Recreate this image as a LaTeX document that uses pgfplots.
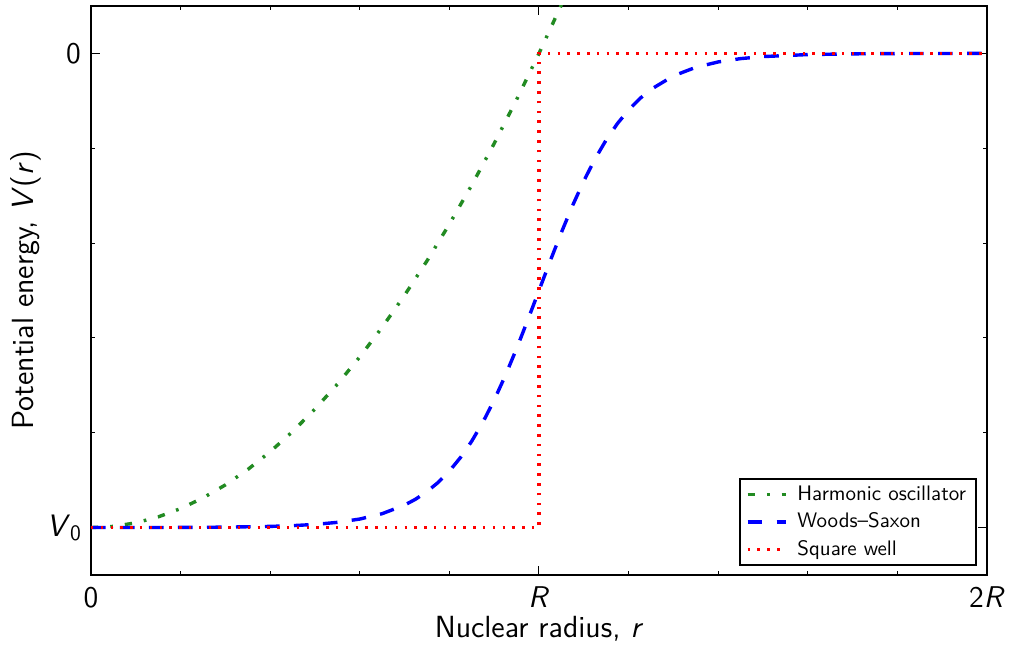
\documentclass[border=0pt]{standalone}
\usepackage{pgfplots}
\pgfplotsset{compat=1.18}

\definecolor{hogreen}{RGB}{34,139,34}

\begin{document}
\begin{tikzpicture}
\useasboundingbox (-45.5pt,-38pt) rectangle (459pt,287.5pt);
\begin{axis}[
  scale only axis,
  width=448pt, height=284.5pt,
  xmin=0, xmax=2, ymin=-1.1, ymax=0.1,
  xtick={0,1,2}, xticklabels={0,\textit{R},2\textit{R}},
  ytick={-1,0},
  yticklabels={{{\fontsize{15.5}{15}\selectfont\textit{V}}\raisebox{-2pt}{\fontsize{11}{11}\selectfont 0}},0},
  minor x tick num=4, minor y tick num=4,
  tick align=inside,
  major tick length=4.5pt, minor tick length=2.2pt,
  every tick/.style={black, line width=0.5pt},
  axis line style={line width=1.3pt},
  ticklabel style={font=\sffamily\fontsize{15}{16}\selectfont},
  xticklabel style={yshift=-2.5pt},
  yticklabel style={xshift=-1.5pt},
  xlabel={Nuclear radius, \textit{r}},
  ylabel={Potential energy, \textit{V}(\textit{r})},
  label style={font=\sffamily\fontsize{15.3}{17}\selectfont},
  xlabel style={at={(axis description cs:0.5,-0.09402)}, anchor=center},
  ylabel style={at={(axis description cs:-0.07254,0.5)}, anchor=center},
  legend cell align=left,
  legend style={
    at={(rel axis cs:1,0)}, anchor=south east, xshift=-5pt, yshift=4.5pt,
    draw=black, line width=1pt, fill=white,
    font=\sffamily\fontsize{10.5}{12}\selectfont,
    inner xsep=3pt, inner ysep=0.9pt, row sep=0pt, column sep=3pt,
    nodes={inner sep=2pt, text height=7.7pt, text depth=2.05pt},
  },
  legend image code/.code={\draw[#1] (0pt,0pt) -- (19pt,0pt);},
]

% harmonic oscillator, V = V0 (1 - r^2/R^2)
\addplot[hogreen, line width=1.7pt,
  dash pattern=on 3.65pt off 6pt on 1.35pt off 6pt] coordinates {
  (0,-1) (0.05,-0.9975) (0.1,-0.99) (0.15,-0.9775) (0.2,-0.96)
  (0.25,-0.9375) (0.3,-0.91) (0.35,-0.8775) (0.4,-0.84) (0.45,-0.7975)
  (0.5,-0.75) (0.55,-0.6975) (0.6,-0.64) (0.65,-0.5775) (0.7,-0.51)
  (0.75,-0.4375) (0.8,-0.36) (0.85,-0.2775) (0.9,-0.19) (0.95,-0.0975)
  (1.0,0) (1.05,0.1025) (1.1,0.21)
};
\addlegendentry{Harmonic oscillator}

% Woods--Saxon, diffuseness a = 0.1 R
\addplot[blue, line width=1.7pt,
  dash pattern=on 7.3pt off 7.2pt] coordinates {
  (0,-0.99995) (0.1,-0.99988) (0.2,-0.99966) (0.3,-0.99909) (0.4,-0.99753)
  (0.45,-0.99593) (0.5,-0.99331) (0.55,-0.98901) (0.6,-0.98201)
  (0.65,-0.97069) (0.7,-0.95257) (0.725,-0.93991) (0.75,-0.92414)
  (0.775,-0.90465) (0.8,-0.88080) (0.825,-0.85195) (0.85,-0.81757)
  (0.875,-0.77730) (0.9,-0.73106) (0.925,-0.67918) (0.95,-0.62246)
  (0.975,-0.56218) (1.0,-0.5) (1.025,-0.43782) (1.05,-0.37754)
  (1.075,-0.32082) (1.1,-0.26894) (1.125,-0.22270) (1.15,-0.18243)
  (1.175,-0.14805) (1.2,-0.11920) (1.225,-0.09535) (1.25,-0.07586)
  (1.3,-0.04743) (1.35,-0.02931) (1.4,-0.01799) (1.45,-0.01099)
  (1.5,-0.00669) (1.6,-0.00247) (1.7,-0.000911) (1.8,-0.000335)
  (1.9,-0.000123) (2.0,-0.0000454)
};
\addlegendentry{Woods--Saxon}

% square well of depth V0 and radius R
\addplot[red, line width=1.7pt,
  dash pattern=on 1.25pt off 3.65pt] coordinates {
  (0,-1) (1,-1) (1,0) (2,0)
};
\addlegendentry{Square well}

\end{axis}
\end{tikzpicture}
\end{document}
